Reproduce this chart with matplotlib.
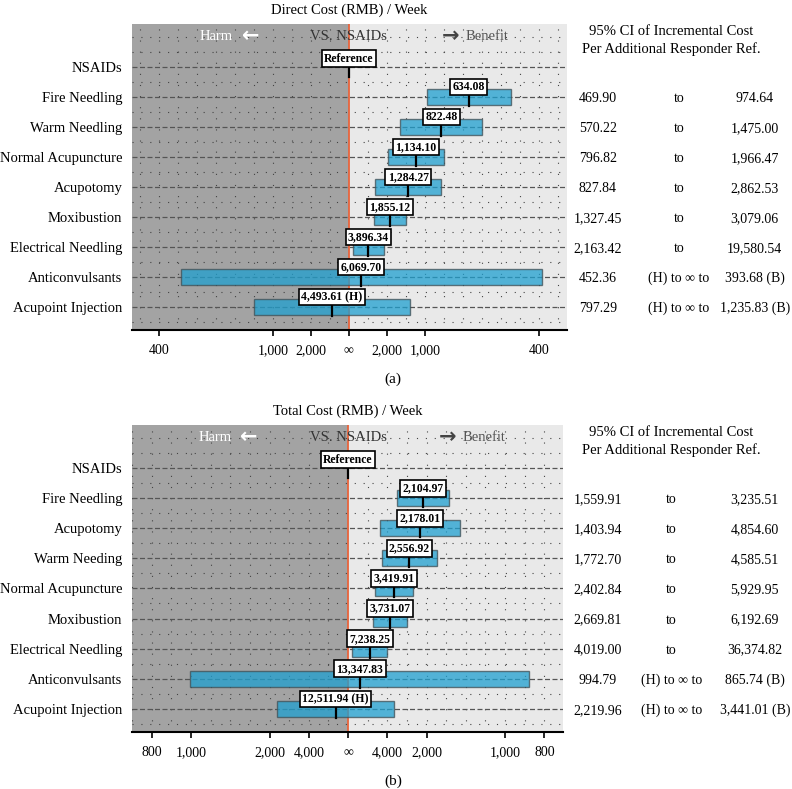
import numpy as np
import matplotlib.pyplot as plt
from matplotlib.transforms import blended_transform_factory

plt.rcParams['font.family'] = ['Liberation Serif', 'DejaVu Serif']

# negative value = harm side (H); None = reference row
cats_direct = ['NSAIDs', 'Fire Needling', 'Warm Needling', 'Normal Acupuncture', 'Acupotomy',
               'Moxibustion', 'Electrical Needling', 'Anticonvulsants', 'Acupoint Injection']
icer_direct = [None, 634.08, 822.48, 1134.10, 1284.27, 1855.12, 3896.34, 6069.70, -4493.61]
lo_direct = [None, 469.90, 570.22, 796.82, 827.84, 1327.45, 2163.42, -452.36, -797.29]
hi_direct = [None, 974.64, 1475.00, 1966.47, 2862.53, 3079.06, 19580.54, 393.68, 1235.83]
ticks_direct = [400, 1000, 2000]

cats_total = ['NSAIDs', 'Fire Needling', 'Acupotomy', 'Warm Needing', 'Normal Acupuncture',
              'Moxibustion', 'Electrical Needling', 'Anticonvulsants', 'Acupoint Injection']
icer_total = [None, 2104.97, 2178.01, 2556.92, 3419.91, 3731.07, 7238.25, 13347.83, -12511.94]
lo_total = [None, 1559.91, 1403.94, 1772.70, 2402.84, 2669.81, 4019.00, -994.79, -2219.96]
hi_total = [None, 3235.51, 4854.60, 4585.51, 5929.95, 6192.69, 36374.82, 865.74, 3441.01]
ticks_total = [800, 1000, 2000, 4000]

DARK = '#a3a3a3'
LIGHT = '#e9e9e9'
BAR = '#1fa0d0'


def fmt(v):
    return f'{abs(v):,.2f}'


def draw_panel(fig, ax, cats, icer, lo, hi, ticks, xlim, step, title, to_x):
    n = len(cats)
    ys = np.arange(n)[::-1]
    ax.set_xlim(*xlim)
    ax.set_ylim(-0.77, n + 0.43)
    ax.axvspan(xlim[0], 0, color=DARK, zorder=0, lw=0)
    ax.axvspan(0, xlim[1], color=LIGHT, zorder=0, lw=0)

    # dotted grid texture
    for gx in np.arange(-3, 3.001, step):
        if xlim[0] < gx < xlim[1] and abs(gx) > 1e-9:
            ax.axvline(gx, color='#444444', lw=0.8, ls=(0, (1, 9)), zorder=1)
    for gy in np.arange(-0.5, n + 0.01, 0.5):
        if abs(gy - round(gy)) < 1e-9 and round(gy) < n:
            continue
        ax.axhline(gy, color='#444444', lw=0.8, ls=(0, (1, 7)), zorder=1)
    for yy in ys:
        ax.axhline(yy, color='#555555', lw=0.9, ls=(0, (4, 2)), zorder=1)
    ax.axvline(0, color='#e8643c', lw=1.3, zorder=2)

    tr = blended_transform_factory(fig.transFigure, ax.transData)
    for yy, p, l, h in zip(ys, icer, lo, hi):
        if p is None:
            ax.plot([0, 0], [yy - 0.33, yy + 0.25], color='k', lw=1.6, zorder=4)
            ax.text(0, yy + 0.28, 'Reference', ha='center', va='center', fontsize=8.5,
                    fontweight='bold', zorder=5,
                    bbox=dict(boxstyle='square,pad=0.2', fc='white', ec='k', lw=1.2))
            continue
        x1, x2 = sorted([1000 / l, 1000 / h])
        ax.barh(yy, x2 - x1, left=x1, height=0.53, color=BAR, alpha=0.75,
                edgecolor='#3f4f55', lw=1.0, zorder=3)
        px = 1000 / p
        ax.plot([px, px], [yy - 0.3, yy + 0.3], color='k', lw=1.6, zorder=4)
        lab = fmt(p) + (' (H)' if p < 0 else '')
        ax.text(px, yy + 0.33, lab, ha='center', va='center', fontsize=8.5,
                fontweight='bold', zorder=5,
                bbox=dict(boxstyle='square,pad=0.2', fc='white', ec='k', lw=1.2))
        cross = l < 0
        ax.text(0.755, yy, fmt(l), transform=tr, ha='center', va='center_baseline', fontsize=10)
        ax.text(to_x, yy, '(H) to \u221e to' if cross else 'to', transform=tr,
                ha='center', va='center_baseline', fontsize=10)
        ax.text(0.953, yy, fmt(h) + (' (B)' if cross else ''), transform=tr,
                ha='center', va='center_baseline', fontsize=10)

    # header row
    top = n
    ta = blended_transform_factory(ax.transAxes, ax.transData)
    ax.text(0.232, top, 'Harm', transform=ta, ha='right', va='center', color='white', fontsize=10.5)
    ax.text(0.272, top + 0.03, '\u2190', transform=ta, ha='center', va='center', color='white',
            fontsize=15, fontweight='bold', family='DejaVu Sans')
    ax.text(0, top, 'VS. NSAIDs', ha='center', va='center', color='#333333', fontsize=10.5)
    ax.text(0.733, top + 0.03, '\u2192', transform=ta, ha='center', va='center', color='#444444',
            fontsize=15, fontweight='bold', family='DejaVu Sans')
    ax.text(0.766, top, 'Benefit', transform=ta, ha='left', va='center', color='#555555', fontsize=10.5)
    ax.text(0.848, top + 0.17, '95% CI of Incremental Cost', transform=tr, ha='center',
            va='center', fontsize=10.5)
    ax.text(0.848, top - 0.4, 'Per Additional Responder Ref.', transform=tr, ha='center',
            va='center', fontsize=10.5)

    # axes
    tpos = [-1000 / t for t in ticks] + [0] + [1000 / t for t in ticks[::-1]]
    tlab = [f'{t:,}' for t in ticks] + ['\u221e'] + [f'{t:,}' for t in ticks[::-1]]
    ax.set_xticks(tpos)
    ax.set_xticklabels(tlab)
    ax.set_yticks(ys)
    ax.set_yticklabels(cats)
    for s in ['top', 'right', 'left']:
        ax.spines[s].set_visible(False)
    ax.spines['bottom'].set_linewidth(1.5)
    ax.tick_params(axis='x', length=4, width=1.2, pad=6, labelsize=10)
    ax.tick_params(axis='y', length=0, pad=7, labelsize=10.5)
    ax.set_title(title, fontsize=10.5, pad=7)


fig = plt.figure(figsize=(7.92, 7.89), dpi=100)
ax1 = fig.add_axes([132 / 792, 1 - 330 / 789, 435 / 792, 306 / 789])
ax2 = fig.add_axes([132 / 792, 1 - 732 / 789, 431 / 792, 307 / 789])

draw_panel(fig, ax1, cats_direct, icer_direct, lo_direct, hi_direct, ticks_direct,
           (-2.855, 2.87), 0.25, 'Direct Cost (RMB) / Week', 0.857)
draw_panel(fig, ax2, cats_total, icer_total, lo_total, hi_total, ticks_total,
           (-1.376, 1.369), 0.125, 'Total Cost (RMB) / Week', 0.848)

fig.text(0.496, 1 - 379 / 789, '(a)', ha='center', va='center', fontsize=11)
fig.text(0.496, 1 - 781 / 789, '(b)', ha='center', va='center', fontsize=11)

fig.savefig('out.png', dpi=100)
